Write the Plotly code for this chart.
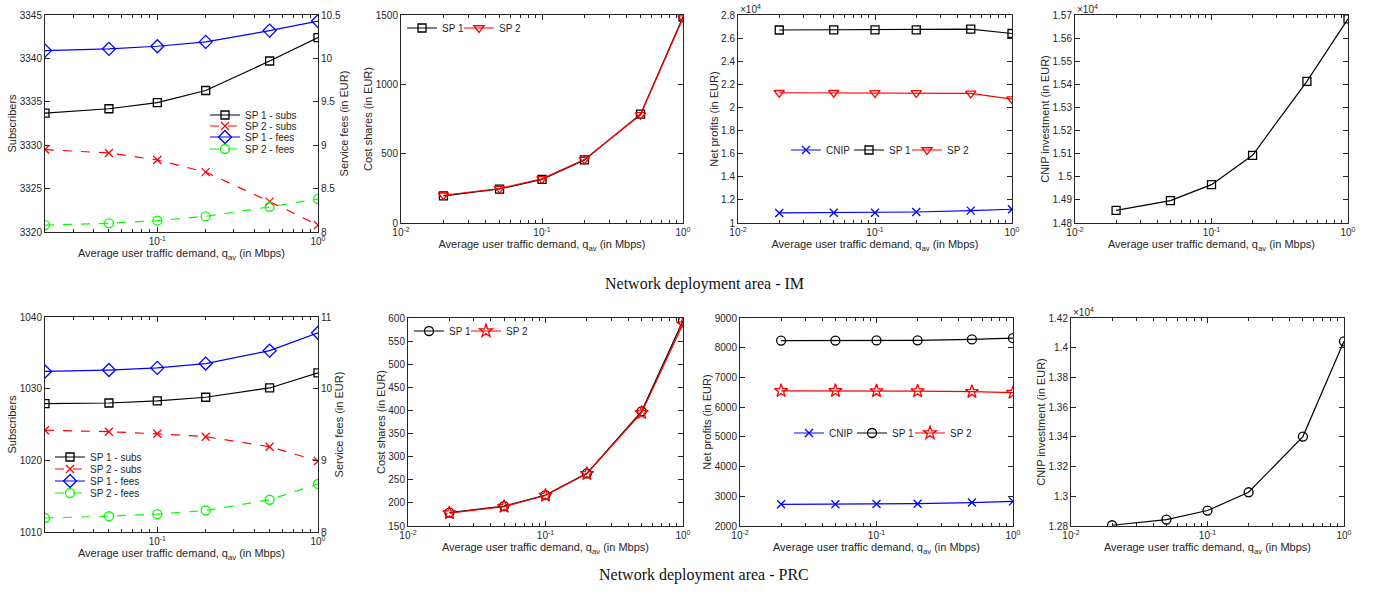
import math
import plotly.graph_objects as go

W, H = 1377, 600
OFF = 0  # body margin removed via post_script

# ---------------- data ----------------
q_av = [0.02, 0.05, 0.1, 0.2, 0.5, 1.0]

# IM area
im_sp1_subs = [3333.7, 3334.2, 3334.9, 3336.3, 3339.7, 3342.4]
im_sp2_subs = [3329.5, 3329.1, 3328.3, 3326.9, 3323.5, 3320.8]
im_sp1_fees = [10.09, 10.11, 10.14, 10.19, 10.32, 10.43]
im_sp2_fees = [8.08, 8.10, 8.13, 8.18, 8.29, 8.38]
im_cost_sp1 = [195, 245, 315, 455, 785, 1485]
im_cost_sp2 = [200, 248, 318, 458, 780, 1478]
im_profit_cnip = [10870, 10880, 10890, 10950, 11070, 11190]
im_profit_sp1 = [26700, 26710, 26710, 26720, 26780, 26400]
im_profit_sp2 = [21270, 21270, 21260, 21260, 21220, 20720]
im_cnip_inv = [14855, 14897, 14966, 15093, 15413, 15683]

# PRC area
prc_sp1_subs = [1027.9, 1028.0, 1028.3, 1028.8, 1030.1, 1032.2]
prc_sp2_subs = [1024.2, 1024.0, 1023.7, 1023.3, 1021.9, 1019.9]
prc_sp1_fees = [10.24, 10.26, 10.29, 10.35, 10.53, 10.78]
prc_sp2_fees = [8.195, 8.22, 8.25, 8.30, 8.45, 8.67]
prc_cost_sp1 = [179, 193, 217, 264, 398, 594]
prc_cost_sp2 = [178, 192, 216, 263, 395, 587]
prc_profit_cnip = [2730, 2730, 2740, 2750, 2790, 2830]
prc_profit_sp1 = [8240, 8240, 8245, 8250, 8280, 8320]
prc_profit_sp2 = [6550, 6550, 6545, 6540, 6520, 6490]
prc_cnip_inv = [12805, 12843, 12904, 13027, 13402, 14043]

x_ticks = [0.01, 0.1, 1]
x_ticktext = ["10<sup>-2</sup>", "10<sup>-1</sup>", "10<sup>0</sup>"]
x_minor = [0.02, 0.03, 0.04, 0.05, 0.06, 0.07, 0.08, 0.09,
           0.2, 0.3, 0.4, 0.5, 0.6, 0.7, 0.8, 0.9]
x_title = "Average user traffic demand, q<sub>av</sub> (in Mbps)"
area_titles = ["Network deployment area - IM", "Network deployment area - PRC"]

# ---------------- styles ----------------
AX = "#262626"
FONT = "Liberation Sans"
TICKF = dict(family=FONT, size=10, color=AX)
TITLEF = dict(family=FONT, size=11, color=AX)


def fx(p):
    return (p - OFF) / W


def fy(p):
    return 1 - (p - OFF) / H


def px_x(a, b):
    return [fx(a), fx(b)]


def px_y(top, bottom):
    return [fy(bottom), fy(top)]


# panel pixel boxes (left, right, top, bottom)
boxes = [
    (45, 318, 15, 232), (401, 683, 15, 223), (738, 1012, 15, 223), (1075, 1348, 15, 223),
    (45, 318, 317, 532), (408, 683, 318, 526), (740, 1013, 318, 526), (1071, 1344, 318, 526),
]

fig = go.Figure()
layout = {}


def xaxis(i, box, xmin):
    l, r, t, b = box
    return dict(
        domain=px_x(l, r), anchor=f"y{i}" if i > 1 else "y", type="log",
        range=[math.log10(xmin), 0], automargin=False,
        tickvals=x_ticks, ticktext=x_ticktext, ticks="inside", ticklen=5,
        tickcolor=AX, tickfont=TICKF, showline=True, linecolor=AX, linewidth=1,
        mirror="ticks", showgrid=False, zeroline=False,
        minor=dict(tickvals=x_minor, ticks="inside", ticklen=3, tickcolor=AX, showgrid=False),
        title=dict(text=x_title, font=TITLEF, standoff=3),
    )


def yaxis(i, box, rng, dtick=None, tickvals=None, ticktext=None, title="", mirror="ticks", side="left"):
    l, r, t, b = box
    d = dict(
        domain=px_y(t, b), anchor=f"x{i}" if i > 1 else "x", range=rng, automargin=False,
        ticks="inside", ticklen=5, tickcolor=AX, tickfont=TICKF,
        showline=True, linecolor=AX, linewidth=1, mirror=mirror,
        showgrid=False, zeroline=False, side=side,
        title=dict(text=title, font=TITLEF, standoff=0),
    )
    if tickvals is not None:
        d["tickmode"] = "array"
        d["tickvals"] = tickvals
        d["ticktext"] = ticktext
    elif dtick is not None:
        d["dtick"] = dtick
        d["tick0"] = rng[0]
    return d


def sci(vals):
    return [f"{v / 1e4:g}" for v in vals]


for i, box in enumerate(boxes, start=1):
    key = "xaxis" if i == 1 else f"xaxis{i}"
    xmin = 0.02 if i in (1, 5) else 0.01
    layout[key] = xaxis(i, box, xmin)

layout["yaxis"] = yaxis(1, boxes[0], [3320, 3345], dtick=5, title="Subscribers", mirror=False)
layout["yaxis2"] = yaxis(2, boxes[1], [0, 1500], dtick=500, title="Cost shares (in EUR)")
t3 = list(range(10000, 28001, 2000))
layout["yaxis3"] = yaxis(3, boxes[2], [10000, 28000], tickvals=t3, ticktext=sci(t3), title="Net profits (in EUR)")
t4 = list(range(14800, 15701, 100))
layout["yaxis4"] = yaxis(4, boxes[3], [14800, 15700], tickvals=t4, ticktext=sci(t4), title="CNIP investment (in EUR)")
layout["yaxis5"] = yaxis(5, boxes[4], [1010, 1040], dtick=10, title="Subscribers", mirror=False)
layout["yaxis6"] = yaxis(6, boxes[5], [150, 600], dtick=50, title="Cost shares (in EUR)")
layout["yaxis7"] = yaxis(7, boxes[6], [2000, 9000], dtick=1000, title="Net profits (in EUR)")
t8 = list(range(12800, 14201, 200))
layout["yaxis8"] = yaxis(8, boxes[7], [12800, 14200], tickvals=t8, ticktext=sci(t8), title="CNIP investment (in EUR)")
y9 = yaxis(1, boxes[0], [8, 10.5], dtick=0.5, title="Service fees (in EUR)", mirror=False, side="right")
y9["overlaying"] = "y"
layout["yaxis9"] = y9
y10 = yaxis(5, boxes[4], [8, 11], dtick=1, title="Service fees (in EUR)", mirror=False, side="right")
y10["overlaying"] = "y5"
layout["yaxis10"] = y10

RED = "#ff0000"
BLUE = "#0000ff"
GREEN = "#00ff00"
BLACK = "#000000"
LEGF = dict(family=FONT, size=10, color=AX)

legend_count = [0]


def add(x_key, y_key, y, name, color, symbol, size, dash="solid", leg_pos=None, width=1.2):
    """leg_pos = (text_left_px, center_y_px) or None for no legend entry."""
    legend_count[0] += 1
    lname = "legend" if legend_count[0] == 1 else f"legend{legend_count[0]}"
    fig.add_trace(go.Scatter(
        x=q_av, y=y, name=name, mode="lines+markers", xaxis=x_key, yaxis=y_key,
        line=dict(color=color, width=width, dash=dash),
        marker=dict(symbol=symbol, size=size, color=color, line=dict(color=color, width=1.3)),
        legend=lname, showlegend=leg_pos is not None,
    ))
    if leg_pos is not None:
        tx, cy = leg_pos
        layout[lname] = dict(
            x=fx(tx - 40), y=fy(cy), xanchor="left", yanchor="middle",
            bgcolor="rgba(0,0,0,0)", font=LEGF, itemwidth=30, borderwidth=0,
        )
    else:
        layout[lname] = dict(visible=False)


# Panel 1 (IM)
add("x", "y", im_sp1_subs, "SP 1 - subs", BLACK, "square-open", 8, leg_pos=(245, 115))
add("x", "y", im_sp2_subs, "SP 2 - subs", RED, "x-thin-open", 8, dash="dash", leg_pos=(245, 126))
add("x", "y9", im_sp1_fees, "SP 1 - fees", BLUE, "diamond-open", 10, leg_pos=(245, 137))
add("x", "y9", im_sp2_fees, "SP 2 - fees", GREEN, "circle-open", 9, dash="dash", leg_pos=(245, 149))
# Panel 2 (IM)
add("x2", "y2", im_cost_sp1, "SP 1", BLACK, "square-open", 8, leg_pos=(442, 28))
add("x2", "y2", im_cost_sp2, "SP 2", RED, "triangle-down-open", 9, leg_pos=(499, 28))
# Panel 3 (IM)
add("x3", "y3", im_profit_cnip, "CNIP", BLUE, "x-thin-open", 8, leg_pos=(826, 150))
add("x3", "y3", im_profit_sp1, "SP 1", BLACK, "square-open", 8, leg_pos=(889, 150))
add("x3", "y3", im_profit_sp2, "SP 2", RED, "triangle-down-open", 9, leg_pos=(947, 150))
# Panel 4 (IM)
add("x4", "y4", im_cnip_inv, "CNIP", BLACK, "square-open", 8)
# Panel 5 (PRC)
add("x5", "y5", prc_sp1_subs, "SP 1 - subs", BLACK, "square-open", 8, leg_pos=(90, 457))
add("x5", "y5", prc_sp2_subs, "SP 2 - subs", RED, "x-thin-open", 8, dash="dash", leg_pos=(90, 469))
add("x5", "y10", prc_sp1_fees, "SP 1 - fees", BLUE, "diamond-open", 10, leg_pos=(90, 481))
add("x5", "y10", prc_sp2_fees, "SP 2 - fees", GREEN, "circle-open", 9, dash="dash", leg_pos=(90, 493))
# Panel 6 (PRC)
add("x6", "y6", prc_cost_sp1, "SP 1", BLACK, "circle-open", 9, leg_pos=(449, 331))
add("x6", "y6", prc_cost_sp2, "SP 2", RED, "star-open", 10, leg_pos=(506, 331))
# Panel 7 (PRC)
add("x7", "y7", prc_profit_cnip, "CNIP", BLUE, "x-thin-open", 8, leg_pos=(829, 433))
add("x7", "y7", prc_profit_sp1, "SP 1", BLACK, "circle-open", 9, leg_pos=(892, 433))
add("x7", "y7", prc_profit_sp2, "SP 2", RED, "star-open", 10, leg_pos=(950, 433))
# Panel 8 (PRC)
add("x8", "y8", prc_cnip_inv, "CNIP", BLACK, "circle-open", 9)

annotations = []
for bx in (boxes[2], boxes[3], boxes[7]):
    l, r, t, b = bx
    annotations.append(dict(
        x=fx(l), y=fy(t), xref="paper", yref="paper", xanchor="left", yanchor="bottom",
        text="×10<sup>4</sup>", showarrow=False, font=dict(family=FONT, size=10, color=AX),
        yshift=-2,
    ))
annotations.append(dict(x=fx(704), y=fy(284), xref="paper", yref="paper",
                        text=area_titles[0], showarrow=False,
                        font=dict(family="Liberation Serif", size=16, color="#111111")))
annotations.append(dict(x=fx(704), y=fy(586), xref="paper", yref="paper",
                        text=area_titles[1], showarrow=False,
                        font=dict(family="Liberation Serif", size=16, color="#111111")))

fig.update_layout(
    width=W, height=H, margin=dict(l=0, r=0, t=0, b=0, autoexpand=False),
    paper_bgcolor="white", plot_bgcolor="white",
    annotations=annotations, showlegend=True, **layout,
)

fig.write_html("out.html", config={"displayModeBar": False},
               post_script="document.body.style.margin='0px';")
